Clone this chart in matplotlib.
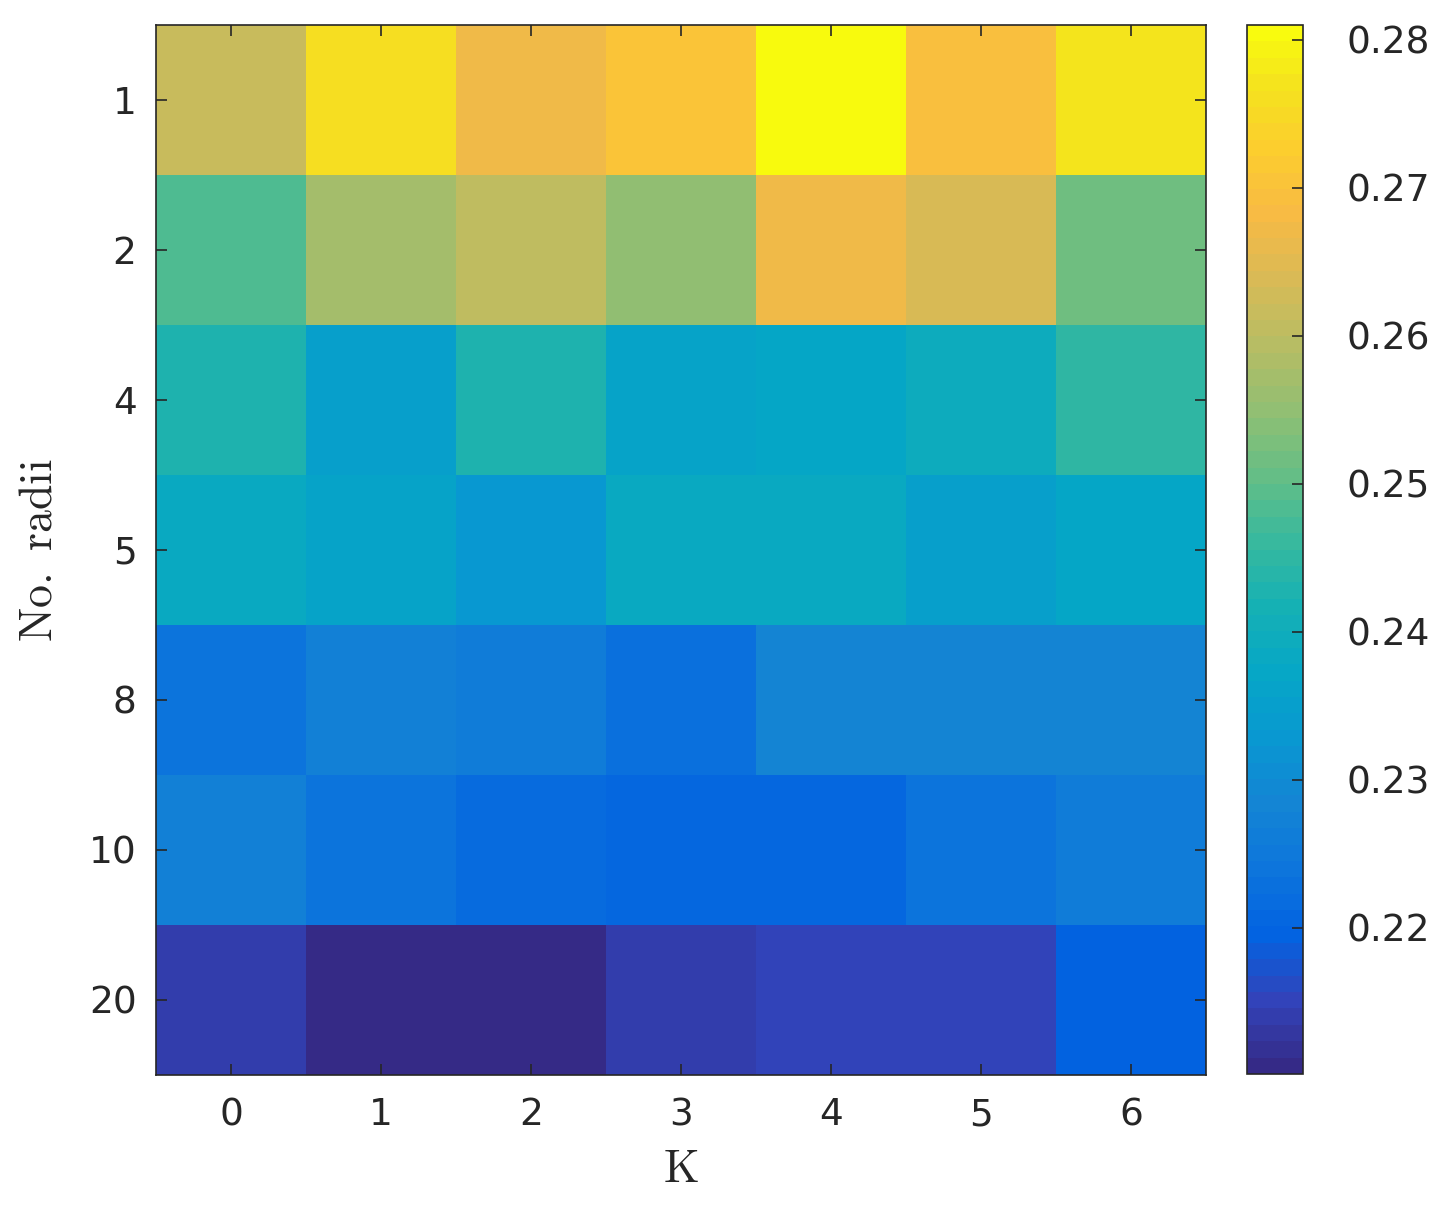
import numpy as np
import matplotlib
matplotlib.use('Agg')
import matplotlib.pyplot as plt
from matplotlib.colors import LinearSegmentedColormap

plt.rcParams['mathtext.fontset'] = 'cm'
plt.rcParams['font.family'] = 'DejaVu Sans'

# data
k_labels = ['0', '1', '2', '3', '4', '5', '6']
radii_labels = ['1', '2', '4', '5', '8', '10', '20']
r1 = [0.2620, 0.2765, 0.2670, 0.2702, 0.2810, 0.2692, 0.2775]
r2 = [0.2480, 0.2570, 0.2610, 0.2555, 0.2670, 0.2640, 0.2520]
r4 = [0.2425, 0.2350, 0.2430, 0.2365, 0.2370, 0.2400, 0.2450]
r5 = [0.2380, 0.2360, 0.2330, 0.2385, 0.2385, 0.2355, 0.2375]
r8 = [0.2235, 0.2275, 0.2265, 0.2225, 0.2285, 0.2280, 0.2285]
r10 = [0.2270, 0.2245, 0.2220, 0.2210, 0.2205, 0.2245, 0.2265]
r20 = [0.2145, 0.2101, 0.2101, 0.2138, 0.2155, 0.2152, 0.2195]
vals = np.array([r1, r2, r4, r5, r8, r10, r20])

# parula-like colormap (anchors from the 64-entry table)
anchors = [
    (0, (0.2081, 0.1663, 0.5292)),
    (4, (0.1959, 0.2645, 0.7279)),
    (8, (0.0117, 0.3875, 0.8820)),
    (12, (0.0498, 0.4586, 0.8641)),
    (16, (0.0793, 0.5200, 0.8312)),
    (20, (0.0343, 0.5966, 0.8199)),
    (24, (0.0228, 0.6535, 0.7768)),
    (28, (0.0843, 0.6928, 0.7062)),
    (32, (0.2178, 0.7250, 0.6193)),
    (36, (0.3953, 0.7459, 0.5244)),
    (40, (0.5709, 0.7485, 0.4494)),
    (44, (0.7184, 0.7411, 0.3905)),
    (48, (0.8507, 0.7299, 0.3360)),
    (52, (0.9739, 0.7314, 0.2666)),
    (56, (0.9880, 0.8066, 0.1794)),
    (60, (0.9589, 0.8949, 0.1132)),
    (63, (0.9763, 0.9831, 0.0538)),
]
parula = LinearSegmentedColormap.from_list(
    'parula', [(i / 63.0, c) for i, c in anchors], N=64)

txtc = (0.15, 0.15, 0.15)
fs = 27

fig = plt.figure(figsize=(14.53, 12.07), dpi=100)
ax = fig.add_axes([156/1453, 132/1207, 1050/1453, 1050/1207])
im = ax.imshow(vals, cmap=parula, aspect='auto', interpolation='nearest',
               vmin=vals.min(), vmax=vals.max())

ax.set_xticks(range(len(k_labels)))
ax.set_xticklabels(k_labels)
ax.set_yticks(range(len(radii_labels)))
ax.set_yticklabels(radii_labels)
ax.tick_params(direction='in', length=8, width=1.2, color=txtc,
               labelcolor=txtc, labelsize=fs, top=True, right=True)
ax.tick_params(axis='x', pad=16)
ax.tick_params(axis='y', pad=14)
for s in ax.spines.values():
    s.set_color(txtc)
    s.set_linewidth(1.2)

ax.set_xlabel(r'$\mathrm{K}$', fontsize=33, color=txtc, labelpad=10)
ax.set_ylabel(r'$\mathrm{No.\ radii}$', fontsize=33, color=txtc, labelpad=20)

cax = fig.add_axes([1247/1453, 133/1207, 56/1453, 1049/1207])
cb = fig.colorbar(im, cax=cax)
cb.set_ticks([0.22, 0.23, 0.24, 0.25, 0.26, 0.27, 0.28])
cb.ax.tick_params(direction='in', length=8, width=1.2, color=txtc,
                  labelcolor=txtc, labelsize=fs, pad=31)
cb.outline.set_edgecolor(txtc)
cb.outline.set_linewidth(1.2)

plt.savefig('out.png', dpi=100)
